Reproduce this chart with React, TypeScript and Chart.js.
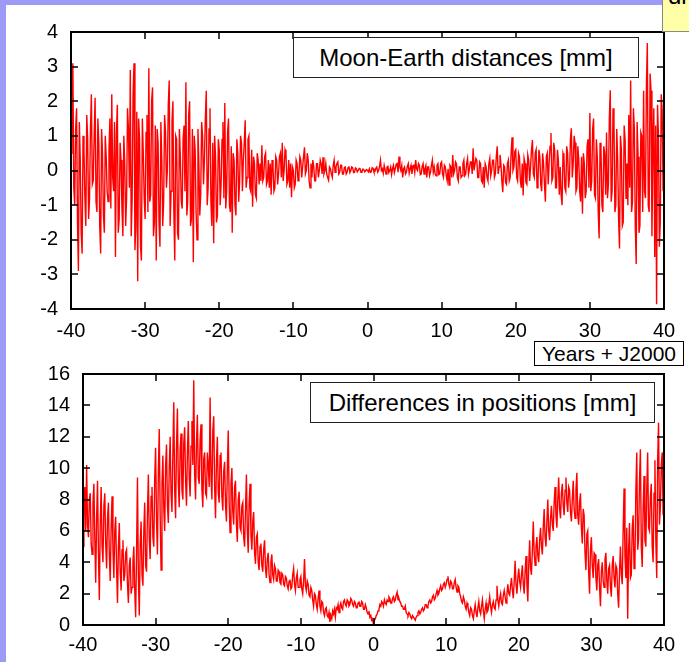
import React, { useEffect, useRef } from "react";
import { Chart, registerables } from "chart.js";

Chart.register(...registerables);

// ---------------- data ----------------
const xTicks = [-40, -30, -20, -10, 0, 10, 20, 30, 40];
const yTicksTop = [-4, -3, -2, -1, 0, 1, 2, 3, 4];
const yTicksBottom = [0, 2, 4, 6, 8, 10, 12, 14, 16];

const START_YEAR = -40;
const YEAR_STEP = 0.125;

// Moon-Earth distance differences [mm], one row per year (8 samples / year)
const moonEarthDist = [
  0.5, 2.0, 3.1, -0.5, -1.0, 1.2, 1.8, -1.5,
  -2.9, 1.4, 0.3, -1.8, -2.4, 1.0, 0.6, -0.8,
  -1.6, 1.6, 0.9, -1.4, -0.8, 1.2, 2.2, -0.4,
  -0.3, 1.0, 2.1, -0.9, -1.2, 1.5, 0.8, -1.6,
  -2.4, 1.2, 0.5, -1.3, -1.8, 1.0, 0.4, -0.6,
  -0.9, 0.6, 1.5, -1.1, 2.2, -0.2, -0.6, 1.4,
  -2.5, 1.0, 1.9, -1.8, -1.4, 0.8, 0.3, -1.1,
  -1.9, 1.0, 0.2, -1.6, -0.8, 1.8, 1.2, -0.5,
  2.9, -1.9, -0.8, 2.2, 3.1, -2.3, -1.6, 1.7,
  -3.2, 1.5, 0.9, -2.2, -2.6, 1.5, 0.5, -0.8,
  -1.4, 1.1, 1.6, -1.2, 2.95, -0.9, -0.7, 2.0,
  2.4, -1.9, -1.5, 1.3, -2.6, 1.2, 0.8, -1.5,
  -2.2, 1.4, 0.3, -1.6, -0.9, 1.6, 1.1, -0.5,
  0.0, 1.9, 2.6, -1.6, -0.6, 1.4, 2.0, -1.2,
  -2.6, 1.0, 0.9, -1.8, -2.0, 1.2, 0.4, -0.9,
  -1.1, 0.9, 1.3, -0.6, 2.55, -1.3, -0.9, 1.6,
  2.0, -1.6, -1.4, 1.2, -2.65, 1.0, 0.6, -1.2,
  -2.0, 1.2, 0.2, -1.3, -0.7, 1.4, 1.0, -0.4,
  0.3, 1.5, 2.3, -1.0, -0.5, 1.2, 1.8, -0.9,
  -1.6, 0.8, -2.1, 1.0, 0.4, -1.5, -1.3, 0.9,
  0.6, -1.0, -0.4, 0.9, 1.4, -0.8, 1.95, -1.1,
  -0.6, 1.1, 1.5, -1.0, -1.2, 0.7, -1.8, 0.5,
  0.3, -1.0, -1.3, 0.9, 0.5, -0.9, -0.3, 1.0,
  0.8, -0.6, 0.3, 0.8, 1.45, -0.5, -0.2, 0.9,
  1.0, -0.5, -0.6, 0.6, -1.05, 0.4, 0.2, -0.7,
  -0.8, 0.5, 0.3, -0.4, 0.2, -0.3, 0.73, -0.3,
  -0.2, 0.4, 0.5, -0.4, -0.3, 0.3, -0.5, 0.2,
  -0.7, 0.3, 0.1, -0.6, -0.5, 0.4, 0.3, -0.4,
  -0.1, 0.4, 0.5, -0.2, 0.8, -0.3, 0.0, 0.6,
  0.5, -0.4, -0.3, 0.3, -0.5, 0.2, -0.77, 0.1,
  0.0, -0.5, -0.4, 0.3, 0.2, -0.3, -0.1, 0.4,
  0.3, -0.2, 0.1, 0.4, 0.67, -0.1, 0.0, 0.5,
  0.3, -0.3, -0.5, 0.2, -0.2, 0.3, 0.1, -0.3,
  -0.3, 0.2, 0.2, -0.2, 0.0, 0.3, 0.2, -0.1,
  0.38, -0.1, 0.0, 0.2, -0.1, -0.2, -0.28, 0.1,
  0.05, -0.1, -0.2, 0.15, 0.3, -0.05, 0.1, 0.2,
  0.25, -0.1, -0.05, 0.15, 0.15, -0.1, -0.1, 0.08,
  0.1, -0.1, -0.05, 0.08, 0.12, -0.06, 0.0, 0.1,
  0.08, -0.06, -0.05, 0.07, 0.05, -0.04, 0.0, 0.06,
  0.05, -0.05, -0.03, 0.04, 0.02, -0.04, 0.0, 0.03,
  0.0, -0.04, 0.05, -0.05, -0.04, 0.08, 0.06, -0.04,
  -0.03, 0.06, 0.1, -0.05, 0.0, 0.12, 0.3, 0.0,
  0.05, -0.08, 0.15, 0.02, -0.1, 0.1, 0.12, -0.06,
  0.0, 0.1, -0.12, 0.05, 0.15, -0.06, 0.05, 0.18,
  0.2, -0.05, 0.4, 0.1, 0.0, 0.15, -0.2, 0.05,
  0.1, -0.1, -0.05, 0.12, 0.2, -0.08, 0.05, 0.15,
  -0.1, 0.12, 0.15, -0.05, 0.3, 0.05, 0.0, 0.2,
  0.15, -0.12, -0.1, 0.12, 0.2, -0.1, 0.05, 0.15,
  -0.2, 0.1, 0.1, -0.15, -0.05, 0.15, 0.3, -0.05,
  0.1, -0.1, -0.15, 0.15, 0.2, -0.12, -0.1, 0.2,
  0.25, -0.1, -0.2, 0.15, 0.1, -0.15, -0.3, 0.05,
  -0.42, 0.15, 0.1, -0.2, 0.45, -0.1, 0.0, 0.25,
  0.2, -0.2, -0.3, 0.1, 0.1, -0.2, -0.15, 0.2,
  0.3, -0.15, -0.1, 0.2, 0.35, -0.1, 0.05, 0.25,
  0.25, -0.1, 0.64, 0.0, 0.0, 0.35, 0.3, -0.2,
  -0.2, 0.25, 0.2, -0.3, -0.35, 0.1, -0.5, 0.2,
  0.1, -0.2, -0.3, 0.2, 0.35, -0.15, 0.0, 0.3,
  0.3, -0.2, -0.1, 0.4, 0.7, -0.1, 0.1, 0.45,
  0.2, -0.3, -0.63, 0.15, 0.1, -0.35, -0.4, 0.2,
  0.3, -0.3, -0.2, 0.5, 0.96, 0.0, 0.1, 0.55,
  0.6, -0.2, -0.3, 0.5, 0.4, -0.3, -0.5, 0.2,
  -0.72, 0.35, 0.2, -0.35, -0.4, 0.45, 0.3, -0.3,
  0.1, 0.6, 0.88, -0.1, -0.2, 0.5, 0.6, -0.5,
  -0.3, 0.6, 0.4, -0.4, -0.6, 0.5, 0.2, -0.4,
  -0.9, 0.4, 0.5, -0.4, 0.2, 0.7, 1.08, -0.3,
  -0.2, 0.8, 0.6, -0.5, -0.5, 0.6, 0.3, -0.7,
  0.1, -0.7, -1.0, 0.5, 0.4, -0.5, -0.6, 0.7,
  0.5, -0.5, -0.2, 0.9, 1.22, -0.2, 0.2, 1.0,
  0.8, -0.6, -0.5, 0.7, 0.3, -0.6, -0.9, 0.4,
  -1.25, 0.5, 0.2, -0.8, -0.6, 0.7, 0.9, -0.5,
  1.66, -0.6, -0.3, 1.2, 1.5, -0.7, -0.8, 0.9,
  0.4, -1.2, -1.96, 0.8, 0.6, -1.0, -1.2, 0.7,
  0.5, -0.7, 1.1, -0.8, -0.4, 1.5, 2.32, -0.9,
  -0.6, 1.8, 1.4, -1.2, -1.0, 1.2, 0.3, -1.4,
  -2.25, 1.0, 0.6, -1.6, -1.5, 1.3, 0.9, -0.8,
  0.2, -1.0, 1.6, -0.5, 2.6, -1.2, -0.9, 1.8,
  1.2, -1.6, -2.7, 1.4, 0.4, -1.8, -1.6, 1.1,
  1.0, -1.2, 2.3, -0.6, -0.8, 2.4, 3.68, -1.0,
  -1.2, 2.8, 2.3, -1.9, 0.6, 1.8, -2.5, 1.3,
  -3.86, 1.9, 1.0, -2.2, -1.5, 2.2, 1.75, -0.6,
  0.5,
];

// Differences in positions [mm], one row per year (8 samples / year)
const positionDiff = [
  5.0, 7.5, 8.8, 6.0, 10.2, 6.4, 5.6, 8.0,
  8.4, 5.2, 4.5, 7.8, 9.0, 5.5, 2.7, 6.8,
  9.2, 4.6, 1.6, 6.5, 8.8, 5.0, 4.0, 7.6,
  8.4, 5.2, 3.6, 6.8, 7.8, 4.4, 2.8, 6.2,
  8.2, 4.8, 3.0, 6.0, 6.9, 3.6, 1.4, 5.0,
  6.5, 3.4, 2.2, 4.8, 5.4, 2.8, 3.2, 4.6,
  4.8, 2.6, 1.4, 3.8, 4.3, 2.0, 2.4, 4.0,
  5.0, 2.2, 0.5, 4.6, 9.4, 3.0, 0.6, 5.2,
  6.6, 3.2, 2.5, 6.0, 7.8, 3.8, 3.4, 7.2,
  9.6, 5.4, 4.2, 8.2, 8.8, 5.6, 5.0, 9.4,
  11.3, 6.6, 4.5, 9.8, 12.5, 7.0, 3.5, 9.0,
  10.8, 7.4, 6.0, 10.2, 11.5, 7.6, 6.5, 10.0,
  12.0, 8.4, 7.2, 11.0, 14.2, 8.6, 6.8, 11.4,
  13.8, 9.0, 7.5, 11.2, 12.2, 8.6, 8.0, 11.6,
  12.6, 9.2, 7.6, 11.0, 13.0, 9.4, 8.2, 11.4,
  13.0, 10.2, 15.6, 9.6, 8.0, 11.6, 13.4, 9.4,
  9.0, 11.8, 12.8, 8.6, 7.5, 10.6, 11.0, 8.4,
  8.2, 11.0, 10.2, 8.8, 14.5, 9.4, 8.0, 12.4,
  13.3, 8.8, 6.8, 10.4, 12.0, 8.4, 7.8, 10.8,
  11.0, 8.2, 7.3, 9.8, 10.4, 7.6, 6.6, 10.0,
  12.4, 7.8, 5.9, 9.0, 10.0, 7.2, 6.4, 8.8,
  9.2, 6.4, 5.3, 8.0, 8.5, 6.2, 6.0, 7.6,
  7.8, 5.6, 5.0, 7.4, 9.6, 6.0, 4.6, 7.8,
  9.0, 5.8, 4.8, 6.6, 7.2, 4.6, 3.9, 5.6,
  5.8, 4.0, 3.5, 5.0, 5.2, 3.8, 3.4, 4.8,
  5.4, 3.6, 3.0, 4.2, 4.6, 3.2, 2.7, 4.0,
  4.5, 3.2, 2.9, 3.8, 3.6, 2.8, 2.8, 3.5,
  3.4, 2.7, 2.6, 3.3, 3.2, 2.6, 2.5, 3.1,
  3.0, 2.5, 2.3, 2.8, 2.9, 2.3, 2.4, 3.2,
  3.6, 2.6, 2.2, 3.0, 3.3, 2.4, 2.4, 2.9,
  3.1, 2.3, 2.0, 2.8, 4.2, 2.5, 2.2, 2.8,
  2.6, 1.9, 1.8, 2.4, 2.2, 1.6, 1.2, 2.0,
  1.9, 1.3, 1.0, 1.7, 2.2, 1.2, 0.9, 1.5,
  1.4, 0.8, 0.6, 1.0, 1.1, 0.6, 0.5, 0.8,
  0.2, 0.6, 0.4, 0.9, 0.7, 1.0, 0.5, 1.1,
  1.0, 1.3, 0.8, 1.2, 1.4, 1.1, 1.0, 1.5,
  1.6, 1.3, 1.2, 1.6, 1.5, 1.2, 1.3, 1.7,
  1.6, 1.3, 1.2, 1.5, 1.4, 1.1, 1.1, 1.4,
  1.5, 1.2, 1.2, 1.5, 1.4, 1.0, 1.0, 1.3,
  1.1, 0.8, 0.7, 0.9, 0.5, 0.6, 0.3, 0.4,
  0.0, 0.3, 0.4, 0.6, 0.7, 0.9, 1.0, 1.3,
  1.2, 1.5, 1.4, 1.2, 1.6, 1.4, 1.3, 1.6,
  1.5, 1.8, 1.7, 1.4, 1.4, 1.7, 1.8, 1.5,
  1.6, 1.9, 2.1, 1.6, 1.7, 1.5, 1.4, 1.2,
  1.2, 1.0, 1.0, 1.2, 0.8, 0.7, 0.6, 0.8,
  0.7, 0.5, 0.4, 0.6, 0.5, 0.4, 0.3, 0.5,
  0.6, 0.8, 0.9, 0.7, 0.8, 1.0, 1.1, 0.9,
  1.0, 1.3, 1.3, 1.1, 1.2, 1.5, 1.6, 1.4,
  1.5, 1.8, 1.9, 1.6, 1.7, 2.0, 2.2, 1.9,
  2.0, 2.3, 2.5, 2.2, 2.3, 2.6, 2.7, 2.4,
  2.6, 2.9, 3.1, 2.6, 2.4, 2.8, 2.7, 2.3,
  2.3, 2.7, 2.9, 2.4, 2.1, 2.5, 2.4, 2.0,
  1.8, 1.5, 1.4, 1.8, 1.6, 1.2, 1.0, 1.4,
  1.2, 0.8, 0.6, 1.1, 1.0, 0.6, 0.4, 0.9,
  1.3, 0.8, 0.5, 1.1, 1.5, 0.9, 0.7, 1.2,
  1.6, 0.9, 0.4, 1.0, 1.4, 0.8, 0.9, 1.3,
  1.8, 1.2, 0.8, 1.3, 1.5, 1.1, 1.0, 1.6,
  2.5, 1.6, 1.2, 1.7, 2.0, 1.4, 1.3, 1.9,
  2.2, 1.8, 1.4, 2.0, 2.6, 2.0, 1.9, 2.5,
  3.0, 2.2, 1.7, 2.8, 4.1, 2.6, 2.0, 3.0,
  3.6, 2.8, 2.4, 3.2, 3.8, 2.6, 2.0, 3.4,
  4.4, 2.6, 1.5, 3.8, 5.4, 3.6, 3.2, 4.8,
  6.6, 4.6, 3.8, 5.0, 5.6, 4.4, 4.0, 5.4,
  6.2, 5.0, 4.5, 6.2, 7.4, 5.6, 5.0, 6.6,
  8.0, 6.0, 5.4, 6.8, 7.6, 6.4, 6.0, 7.8,
  8.8, 7.0, 6.2, 8.0, 9.4, 7.4, 6.8, 8.4,
  9.0, 7.6, 7.0, 8.6, 9.4, 7.8, 7.2, 8.8,
  8.6, 7.2, 6.6, 8.0, 9.2, 7.4, 6.8, 8.6,
  9.7, 7.0, 6.4, 7.8, 8.4, 6.2, 5.2, 7.4,
  7.0, 4.6, 3.5, 5.8, 6.0, 3.4, 2.0, 4.8,
  5.6, 3.8, 3.0, 4.6, 4.5, 3.0, 2.2, 3.8,
  4.2, 2.4, 1.2, 3.4, 4.0, 2.8, 2.4, 4.2,
  4.6, 2.8, 2.0, 3.6, 3.8, 2.4, 1.8, 3.8,
  4.4, 3.0, 2.4, 3.8, 3.6, 2.0, 1.1, 3.4,
  5.0, 3.2, 2.6, 6.0, 8.7, 4.4, 3.0, 6.2,
  0.4, 4.8, 6.5, 3.0, 3.2, 6.2, 7.0, 3.6,
  4.0, 8.6, 11.0, 4.8, 5.5, 9.2, 11.2, 5.0,
  3.7, 7.4, 9.5, 5.4, 5.0, 8.6, 11.0, 6.2,
  6.0, 8.2, 9.0, 5.0, 4.0, 8.4, 10.5, 5.4,
  3.0, 10.6, 12.9, 6.4, 7.5, 10.2, 11.0, 7.0,
  13.7,
];

const years = moonEarthDist.map((_, i) => START_YEAR + i * YEAR_STEP);

// ---------------- helpers ----------------
const FONT = "'Liberation Sans', Arial, Helvetica, sans-serif";

const frameTicks = {
  id: "frameTicks",
  afterDatasetsDraw(chart: any, _args: any, opts: any) {
    const { ctx, chartArea: a, scales } = chart;
    ctx.save();
    ctx.strokeStyle = "#000";
    ctx.lineWidth = 1.5;
    const L = 7;
    ctx.beginPath();
    for (const v of opts.xTicks) {
      const px = Math.round(scales.x.getPixelForValue(v));
      ctx.moveTo(px, a.bottom);
      ctx.lineTo(px, a.bottom - L);
      ctx.moveTo(px, a.top);
      ctx.lineTo(px, a.top + L);
    }
    for (const v of opts.yTicks) {
      const py = Math.round(scales.y.getPixelForValue(v));
      ctx.moveTo(a.left, py);
      ctx.lineTo(a.left + L, py);
      ctx.moveTo(a.right, py);
      ctx.lineTo(a.right - L, py);
    }
    ctx.stroke();
    ctx.lineWidth = 2;
    ctx.strokeRect(a.left, a.top, a.right - a.left, a.bottom - a.top);
    ctx.restore();
  },
};

type PanelProps = {
  values: number[];
  yTicks: number[];
  width: number;
  height: number;
  axisWidth: number;
  axisHeight: number;
  padTop: number;
  padRight: number;
  xLabelPad: number;
};

function Panel(p: PanelProps) {
  const ref = useRef<HTMLCanvasElement | null>(null);
  useEffect(() => {
    if (!ref.current) return;
    const yMin = p.yTicks[0];
    const yMax = p.yTicks[p.yTicks.length - 1];
    const yStep = p.yTicks[1] - p.yTicks[0];
    const chart = new Chart(ref.current, {
      type: "line",
      data: {
        datasets: [
          {
            data: years.map((x, i) => ({ x, y: p.values[i] })),
            borderColor: "#ff0000",
            borderWidth: 1.4,
            pointRadius: 0,
            tension: 0,
            fill: false,
          },
        ],
      },
      options: {
        animation: false,
        responsive: false,
        devicePixelRatio: 1,
        layout: { padding: { left: 0, right: p.padRight, top: p.padTop, bottom: 0 } },
        plugins: {
          legend: { display: false },
          tooltip: { enabled: false },
          frameTicks: { xTicks, yTicks: p.yTicks },
        } as any,
        scales: {
          x: {
            type: "linear",
            min: xTicks[0],
            max: xTicks[xTicks.length - 1],
            grid: { display: false, drawTicks: false },
            border: { display: false },
            ticks: {
              stepSize: 10,
              color: "#000",
              font: { family: FONT, size: 20 },
              padding: p.xLabelPad,
              maxRotation: 0,
              autoSkip: false,
            },
            afterFit: (s: any) => {
              s.height = p.axisHeight;
            },
          },
          y: {
            min: yMin,
            max: yMax,
            grid: { display: false, drawTicks: false },
            border: { display: false },
            ticks: {
              stepSize: yStep,
              color: "#000",
              font: { family: FONT, size: 20 },
              padding: 13,
            },
            afterFit: (s: any) => {
              s.width = p.axisWidth;
            },
          },
        },
      },
      plugins: [frameTicks],
    });
    return () => chart.destroy();
  }, []);
  return <canvas ref={ref} width={p.width} height={p.height} style={{ display: "block" }} />;
}

const boxStyle: React.CSSProperties = {
  position: "absolute",
  background: "#fff",
  border: "1px solid #222",
  boxSizing: "border-box",
  fontFamily: FONT,
  color: "#000",
  textAlign: "center",
  whiteSpace: "nowrap",
};

export default function App() {
  return (
    <div
      style={{
        position: "fixed",
        left: 0,
        top: 0,
        width: 689,
        height: 662,
        background: "#fff",
        overflow: "hidden",
      }}
    >
      <div style={{ position: "absolute", left: 0, top: 0, width: 689, height: 345 }}>
        <Panel
          values={moonEarthDist}
          yTicks={yTicksTop}
          width={689}
          height={345}
          axisWidth={71}
          axisHeight={36}
          padTop={32}
          padRight={25}
          xLabelPad={10}
        />
      </div>
      <div style={{ position: "absolute", left: 0, top: 345, width: 689, height: 317 }}>
        <Panel
          values={positionDiff}
          yTicks={yTicksBottom}
          width={689}
          height={317}
          axisWidth={83}
          axisHeight={37}
          padTop={29}
          padRight={25}
          xLabelPad={8}
        />
      </div>
      {/* slide decoration */}
      <div style={{ position: "absolute", left: 0, top: 0, width: 689, height: 5, background: "#9d9af8" }} />
      <div style={{ position: "absolute", left: 0, top: 0, width: 6, height: 662, background: "#9d9af8" }} />
      <div
        style={{
          position: "absolute",
          left: 662,
          top: -1,
          width: 40,
          height: 33,
          background: "#ffffa8",
          border: "1px solid #888",
          boxSizing: "border-box",
          overflow: "hidden",
        }}
      >
        <div style={{ position: "absolute", left: 5, top: -16, fontFamily: FONT, fontSize: 24, lineHeight: "24px" }}>di</div>
      </div>
      {/* legend boxes */}
      <div style={{ ...boxStyle, left: 293, top: 37, width: 346, height: 41, fontSize: 24, lineHeight: "39px" }}>
        Moon-Earth distances [mm]
      </div>
      <div style={{ ...boxStyle, left: 310, top: 382, width: 345, height: 41, fontSize: 24, lineHeight: "39px" }}>
        Differences in positions [mm]
      </div>
      <div
        style={{
          ...boxStyle,
          left: 534,
          top: 341,
          width: 150,
          height: 25,
          fontSize: 21,
          lineHeight: "23px",
          border: "1px solid #000",
        }}
      >
        Years + J2000
      </div>
    </div>
  );
}
